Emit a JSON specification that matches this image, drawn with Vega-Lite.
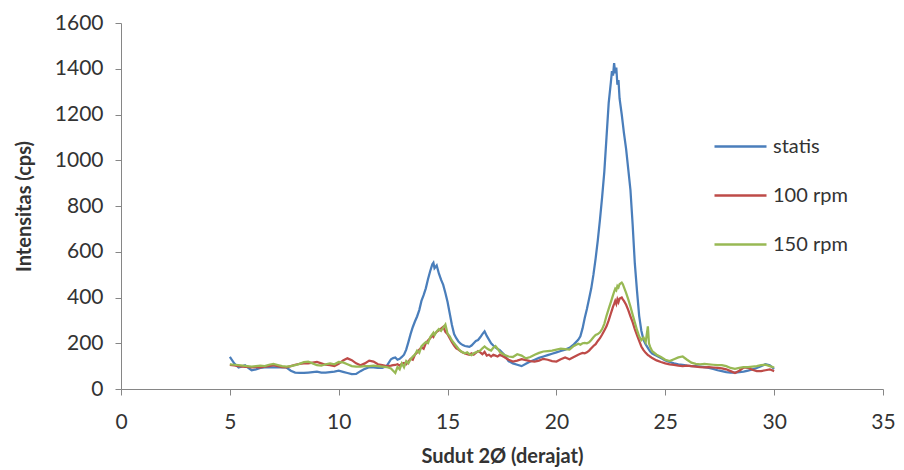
{
  "$schema": "https://vega.github.io/schema/vega-lite/v6.json",
  "width": 762,
  "height": 366,
  "autosize": "none",
  "padding": {"left": 121, "top": 23, "right": 21, "bottom": 81},
  "background": "white",
  "config": {
    "view": {"stroke": null},
    "font": "Lato",
    "axis": {
      "grid": false,
      "domainColor": "#868686",
      "tickColor": "#868686",
      "tickSize": 6,
      "labelFont": "Lato",
      "labelFontSize": 21,
      "labelColor": "#333333",
      "titleFont": "Lato",
      "titleFontSize": 20,
      "titleFontWeight": "bold",
      "titleColor": "#333333"
    }
  },
  "data": {
    "values": [
      {"t": 5.0, "statis": 140, "100 rpm": 105, "150 rpm": 108},
      {"t": 5.2, "statis": 112, "100 rpm": 103, "150 rpm": 106},
      {"t": 5.4, "statis": 94, "100 rpm": 100, "150 rpm": 104},
      {"t": 5.6, "statis": 100, "100 rpm": 98, "150 rpm": 102},
      {"t": 5.7, "statis": 104, "100 rpm": 97, "150 rpm": 101},
      {"t": 5.8, "statis": 96, "100 rpm": 97, "150 rpm": 100},
      {"t": 6.0, "statis": 82, "100 rpm": 95, "150 rpm": 98},
      {"t": 6.2, "statis": 86, "100 rpm": 96, "150 rpm": 100},
      {"t": 6.4, "statis": 92, "100 rpm": 95, "150 rpm": 102},
      {"t": 6.6, "statis": 95, "100 rpm": 98, "150 rpm": 100},
      {"t": 6.8, "statis": 96, "100 rpm": 100, "150 rpm": 106},
      {"t": 7.0, "statis": 95, "100 rpm": 104, "150 rpm": 110},
      {"t": 7.2, "statis": 94, "100 rpm": 100, "150 rpm": 105},
      {"t": 7.4, "statis": 95, "100 rpm": 96, "150 rpm": 100},
      {"t": 7.6, "statis": 94, "100 rpm": 95, "150 rpm": 98},
      {"t": 7.8, "statis": 80, "100 rpm": 100, "150 rpm": 100},
      {"t": 8.0, "statis": 72, "100 rpm": 106, "150 rpm": 104},
      {"t": 8.2, "statis": 70, "100 rpm": 110, "150 rpm": 110},
      {"t": 8.4, "statis": 70, "100 rpm": 112, "150 rpm": 118},
      {"t": 8.6, "statis": 72, "100 rpm": 112, "150 rpm": 120},
      {"t": 8.8, "statis": 74, "100 rpm": 115, "150 rpm": 112},
      {"t": 9.0, "statis": 76, "100 rpm": 118, "150 rpm": 104},
      {"t": 9.2, "statis": 72, "100 rpm": 112, "150 rpm": 102},
      {"t": 9.4, "statis": 72, "100 rpm": 106, "150 rpm": 108},
      {"t": 9.6, "statis": 74, "100 rpm": 104, "150 rpm": 112},
      {"t": 9.8, "statis": 76, "100 rpm": 100, "150 rpm": 108},
      {"t": 10.0, "statis": 80, "100 rpm": 110, "150 rpm": 118},
      {"t": 10.2, "statis": 75, "100 rpm": 125, "150 rpm": 116},
      {"t": 10.4, "statis": 70, "100 rpm": 134, "150 rpm": 108},
      {"t": 10.6, "statis": 65, "100 rpm": 126, "150 rpm": 100},
      {"t": 10.8, "statis": 66, "100 rpm": 112, "150 rpm": 98},
      {"t": 11.0, "statis": 78, "100 rpm": 104, "150 rpm": 98},
      {"t": 11.2, "statis": 88, "100 rpm": 112, "150 rpm": 100},
      {"t": 11.4, "statis": 95, "100 rpm": 124, "150 rpm": 100},
      {"t": 11.6, "statis": 95, "100 rpm": 120, "150 rpm": 102},
      {"t": 11.8, "statis": 92, "100 rpm": 108, "150 rpm": 100},
      {"t": 12.0, "statis": 92, "100 rpm": 104, "150 rpm": 98},
      {"t": 12.2, "statis": 100, "100 rpm": 100, "150 rpm": 96},
      {"t": 12.4, "statis": 130, "100 rpm": 102, "150 rpm": 90},
      {"t": 12.5, "statis": 135, "100 rpm": 104, "150 rpm": 80},
      {"t": 12.6, "statis": 138, "100 rpm": 105, "150 rpm": 70},
      {"t": 12.7, "statis": 128, "100 rpm": 108, "150 rpm": 96},
      {"t": 12.8, "statis": 132, "100 rpm": 102, "150 rpm": 86},
      {"t": 12.9, "statis": 140, "100 rpm": 110, "150 rpm": 112},
      {"t": 13.0, "statis": 150, "100 rpm": 114, "150 rpm": 95},
      {"t": 13.1, "statis": 172, "100 rpm": 108, "150 rpm": 122},
      {"t": 13.2, "statis": 205, "100 rpm": 120, "150 rpm": 112},
      {"t": 13.3, "statis": 240, "100 rpm": 132, "150 rpm": 130},
      {"t": 13.4, "statis": 270, "100 rpm": 128, "150 rpm": 142},
      {"t": 13.5, "statis": 295, "100 rpm": 150, "150 rpm": 150},
      {"t": 13.6, "statis": 317, "100 rpm": 160, "150 rpm": 168},
      {"t": 13.7, "statis": 345, "100 rpm": 172, "150 rpm": 158},
      {"t": 13.8, "statis": 385, "100 rpm": 182, "150 rpm": 186},
      {"t": 13.9, "statis": 410, "100 rpm": 176, "150 rpm": 196},
      {"t": 14.0, "statis": 440, "100 rpm": 200, "150 rpm": 205},
      {"t": 14.1, "statis": 480, "100 rpm": 212, "150 rpm": 200},
      {"t": 14.2, "statis": 515, "100 rpm": 222, "150 rpm": 226},
      {"t": 14.3, "statis": 545, "100 rpm": 234, "150 rpm": 240},
      {"t": 14.35, "statis": 552, "100 rpm": 228, "150 rpm": 246},
      {"t": 14.4, "statis": 528, "100 rpm": 240, "150 rpm": 236},
      {"t": 14.5, "statis": 540, "100 rpm": 250, "150 rpm": 252},
      {"t": 14.6, "statis": 505, "100 rpm": 256, "150 rpm": 262},
      {"t": 14.7, "statis": 478, "100 rpm": 264, "150 rpm": 254},
      {"t": 14.8, "statis": 455, "100 rpm": 272, "150 rpm": 268},
      {"t": 14.9, "statis": 420, "100 rpm": 250, "150 rpm": 282},
      {"t": 15.0, "statis": 380, "100 rpm": 240, "150 rpm": 242},
      {"t": 15.1, "statis": 330, "100 rpm": 222, "150 rpm": 230},
      {"t": 15.2, "statis": 280, "100 rpm": 205, "150 rpm": 212},
      {"t": 15.3, "statis": 240, "100 rpm": 190, "150 rpm": 200},
      {"t": 15.4, "statis": 222, "100 rpm": 178, "150 rpm": 188},
      {"t": 15.5, "statis": 208, "100 rpm": 172, "150 rpm": 176},
      {"t": 15.6, "statis": 198, "100 rpm": 165, "150 rpm": 166},
      {"t": 15.7, "statis": 192, "100 rpm": 160, "150 rpm": 160},
      {"t": 15.8, "statis": 188, "100 rpm": 155, "150 rpm": 156},
      {"t": 15.9, "statis": 186, "100 rpm": 152, "150 rpm": 160},
      {"t": 16.0, "statis": 184, "100 rpm": 150, "150 rpm": 152},
      {"t": 16.1, "statis": 190, "100 rpm": 156, "150 rpm": 148},
      {"t": 16.2, "statis": 200, "100 rpm": 150, "150 rpm": 156},
      {"t": 16.3, "statis": 210, "100 rpm": 158, "150 rpm": 160},
      {"t": 16.4, "statis": 214, "100 rpm": 166, "150 rpm": 164},
      {"t": 16.5, "statis": 226, "100 rpm": 160, "150 rpm": 168},
      {"t": 16.6, "statis": 240, "100 rpm": 152, "150 rpm": 178},
      {"t": 16.7, "statis": 252, "100 rpm": 162, "150 rpm": 186},
      {"t": 16.8, "statis": 232, "100 rpm": 146, "150 rpm": 178},
      {"t": 16.9, "statis": 216, "100 rpm": 150, "150 rpm": 172},
      {"t": 17.0, "statis": 200, "100 rpm": 142, "150 rpm": 168},
      {"t": 17.1, "statis": 190, "100 rpm": 150, "150 rpm": 180},
      {"t": 17.2, "statis": 182, "100 rpm": 146, "150 rpm": 188},
      {"t": 17.3, "statis": 175, "100 rpm": 142, "150 rpm": 176},
      {"t": 17.4, "statis": 170, "100 rpm": 150, "150 rpm": 162},
      {"t": 17.6, "statis": 150, "100 rpm": 140, "150 rpm": 150},
      {"t": 17.8, "statis": 122, "100 rpm": 128, "150 rpm": 142},
      {"t": 18.0, "statis": 112, "100 rpm": 120, "150 rpm": 140},
      {"t": 18.2, "statis": 106, "100 rpm": 124, "150 rpm": 152},
      {"t": 18.4, "statis": 100, "100 rpm": 130, "150 rpm": 146},
      {"t": 18.6, "statis": 110, "100 rpm": 126, "150 rpm": 134},
      {"t": 18.8, "statis": 120, "100 rpm": 122, "150 rpm": 140},
      {"t": 19.0, "statis": 128, "100 rpm": 120, "150 rpm": 150},
      {"t": 19.2, "statis": 136, "100 rpm": 124, "150 rpm": 158},
      {"t": 19.4, "statis": 142, "100 rpm": 132, "150 rpm": 164},
      {"t": 19.6, "statis": 148, "100 rpm": 128, "150 rpm": 166},
      {"t": 19.8, "statis": 154, "100 rpm": 122, "150 rpm": 168},
      {"t": 20.0, "statis": 160, "100 rpm": 120, "150 rpm": 172},
      {"t": 20.2, "statis": 166, "100 rpm": 130, "150 rpm": 176},
      {"t": 20.4, "statis": 172, "100 rpm": 138, "150 rpm": 174},
      {"t": 20.6, "statis": 180, "100 rpm": 130, "150 rpm": 172},
      {"t": 20.8, "statis": 195, "100 rpm": 140, "150 rpm": 188},
      {"t": 21.0, "statis": 215, "100 rpm": 150, "150 rpm": 198},
      {"t": 21.1, "statis": 230, "100 rpm": 154, "150 rpm": 194},
      {"t": 21.2, "statis": 265, "100 rpm": 158, "150 rpm": 200},
      {"t": 21.3, "statis": 310, "100 rpm": 156, "150 rpm": 202},
      {"t": 21.4, "statis": 350, "100 rpm": 160, "150 rpm": 200},
      {"t": 21.5, "statis": 395, "100 rpm": 168, "150 rpm": 204},
      {"t": 21.6, "statis": 440, "100 rpm": 178, "150 rpm": 214},
      {"t": 21.7, "statis": 500, "100 rpm": 188, "150 rpm": 226},
      {"t": 21.8, "statis": 570, "100 rpm": 196, "150 rpm": 236},
      {"t": 21.9, "statis": 650, "100 rpm": 210, "150 rpm": 240},
      {"t": 22.0, "statis": 740, "100 rpm": 222, "150 rpm": 248},
      {"t": 22.1, "statis": 840, "100 rpm": 238, "150 rpm": 262},
      {"t": 22.2, "statis": 950, "100 rpm": 256, "150 rpm": 285},
      {"t": 22.3, "statis": 1100, "100 rpm": 274, "150 rpm": 320},
      {"t": 22.4, "statis": 1250, "100 rpm": 300, "150 rpm": 350},
      {"t": 22.5, "statis": 1340, "100 rpm": 330, "150 rpm": 380},
      {"t": 22.55, "statis": 1390, "100 rpm": 345, "150 rpm": 395},
      {"t": 22.6, "statis": 1370, "100 rpm": 360, "150 rpm": 410},
      {"t": 22.65, "statis": 1425, "100 rpm": 372, "150 rpm": 425},
      {"t": 22.7, "statis": 1380, "100 rpm": 385, "150 rpm": 438},
      {"t": 22.75, "statis": 1405, "100 rpm": 372, "150 rpm": 432},
      {"t": 22.8, "statis": 1330, "100 rpm": 392, "150 rpm": 450},
      {"t": 22.85, "statis": 1350, "100 rpm": 380, "150 rpm": 444},
      {"t": 22.9, "statis": 1270, "100 rpm": 395, "150 rpm": 458},
      {"t": 23.0, "statis": 1200, "100 rpm": 400, "150 rpm": 465},
      {"t": 23.05, "statis": 1160, "100 rpm": 392, "150 rpm": 458},
      {"t": 23.1, "statis": 1120, "100 rpm": 385, "150 rpm": 445},
      {"t": 23.2, "statis": 1050, "100 rpm": 368, "150 rpm": 420},
      {"t": 23.3, "statis": 960, "100 rpm": 345, "150 rpm": 392},
      {"t": 23.4, "statis": 870, "100 rpm": 318, "150 rpm": 360},
      {"t": 23.5, "statis": 720, "100 rpm": 292, "150 rpm": 325},
      {"t": 23.6, "statis": 550, "100 rpm": 262, "150 rpm": 292},
      {"t": 23.7, "statis": 430, "100 rpm": 236, "150 rpm": 258},
      {"t": 23.8, "statis": 320, "100 rpm": 210, "150 rpm": 230},
      {"t": 23.9, "statis": 255, "100 rpm": 186, "150 rpm": 214},
      {"t": 24.0, "statis": 215, "100 rpm": 170, "150 rpm": 225},
      {"t": 24.1, "statis": 195, "100 rpm": 158, "150 rpm": 205},
      {"t": 24.2, "statis": 180, "100 rpm": 148, "150 rpm": 274},
      {"t": 24.25, "statis": 172, "100 rpm": 146, "150 rpm": 200},
      {"t": 24.3, "statis": 165, "100 rpm": 142, "150 rpm": 185},
      {"t": 24.4, "statis": 155, "100 rpm": 135, "150 rpm": 165},
      {"t": 24.6, "statis": 145, "100 rpm": 125, "150 rpm": 150},
      {"t": 24.8, "statis": 135, "100 rpm": 118, "150 rpm": 140},
      {"t": 25.0, "statis": 125, "100 rpm": 112, "150 rpm": 128},
      {"t": 25.2, "statis": 118, "100 rpm": 108, "150 rpm": 122},
      {"t": 25.4, "statis": 112, "100 rpm": 105, "150 rpm": 130},
      {"t": 25.6, "statis": 108, "100 rpm": 102, "150 rpm": 138},
      {"t": 25.8, "statis": 105, "100 rpm": 100, "150 rpm": 142},
      {"t": 26.0, "statis": 102, "100 rpm": 102, "150 rpm": 128},
      {"t": 26.2, "statis": 100, "100 rpm": 100, "150 rpm": 115},
      {"t": 26.4, "statis": 100, "100 rpm": 98, "150 rpm": 110},
      {"t": 26.6, "statis": 98, "100 rpm": 96, "150 rpm": 108},
      {"t": 26.8, "statis": 96, "100 rpm": 95, "150 rpm": 110},
      {"t": 27.0, "statis": 92, "100 rpm": 96, "150 rpm": 108},
      {"t": 27.2, "statis": 88, "100 rpm": 94, "150 rpm": 106},
      {"t": 27.4, "statis": 82, "100 rpm": 92, "150 rpm": 104},
      {"t": 27.6, "statis": 78, "100 rpm": 90, "150 rpm": 104},
      {"t": 27.8, "statis": 74, "100 rpm": 86, "150 rpm": 100},
      {"t": 28.0, "statis": 72, "100 rpm": 78, "150 rpm": 92},
      {"t": 28.2, "statis": 72, "100 rpm": 70, "150 rpm": 88},
      {"t": 28.4, "statis": 74, "100 rpm": 80, "150 rpm": 92},
      {"t": 28.6, "statis": 76, "100 rpm": 94, "150 rpm": 96},
      {"t": 28.8, "statis": 80, "100 rpm": 92, "150 rpm": 96},
      {"t": 29.0, "statis": 86, "100 rpm": 84, "150 rpm": 98},
      {"t": 29.2, "statis": 92, "100 rpm": 78, "150 rpm": 100},
      {"t": 29.4, "statis": 100, "100 rpm": 78, "150 rpm": 104},
      {"t": 29.6, "statis": 108, "100 rpm": 82, "150 rpm": 106},
      {"t": 29.8, "statis": 104, "100 rpm": 86, "150 rpm": 100},
      {"t": 30.0, "statis": 88, "100 rpm": 78, "150 rpm": 94}
    ]
  },
  "transform": [
    {"fold": ["statis", "100 rpm", "150 rpm"], "as": ["series", "val"]}
  ],
  "mark": {"type": "line", "strokeWidth": 2.25, "interpolate": "linear"},
  "encoding": {
    "x": {
      "field": "t",
      "type": "quantitative",
      "scale": {"domain": [0, 35], "nice": false},
      "axis": {
        "values": [0, 5, 10, 15, 20, 25, 30, 35],
        "title": "Sudut 2Ø (derajat)",
        "labelPadding": 16,
        "titlePadding": 14,
        "labelFlush": false
      }
    },
    "y": {
      "field": "val",
      "type": "quantitative",
      "scale": {"domain": [0, 1600], "nice": false},
      "axis": {
        "values": [0, 200, 400, 600, 800, 1000, 1200, 1400, 1600],
        "format": "d",
        "title": "Intensitas (cps)",
        "labelPadding": 12,
        "titlePadding": 20
      }
    },
    "color": {
      "field": "series",
      "type": "nominal",
      "scale": {
        "domain": ["statis", "100 rpm", "150 rpm"],
        "range": ["#4A7EBB", "#BE4B48", "#98B954"]
      },
      "legend": {
        "title": null,
        "orient": "none",
        "legendX": 608,
        "legendY": 112,
        "direction": "vertical",
        "padding": 0,
        "symbolType": "M-2.6,0H2.6",
        "symbolSize": 400,
        "symbolStrokeWidth": 2.5,
        "labelFont": "Lato",
        "labelFontSize": 20,
        "labelColor": "#333333",
        "labelOffset": 21,
        "rowPadding": 27
      }
    },
    "order": {"field": "t", "type": "quantitative"}
  }
}
